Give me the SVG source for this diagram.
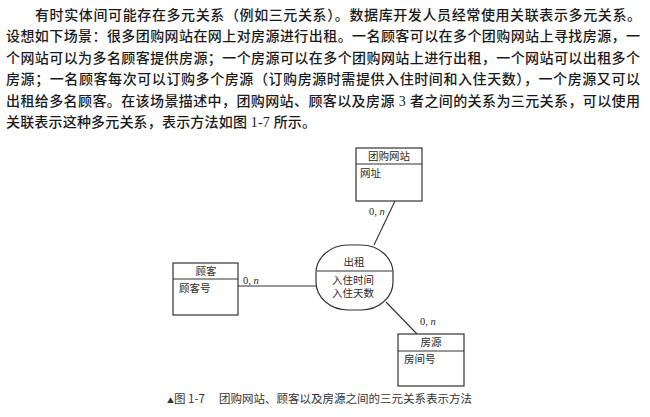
<svg xmlns="http://www.w3.org/2000/svg" width="650" height="417" viewBox="0 0 650 417">
<style>
.body{font-family:"Liberation Serif","Noto Sans CJK SC",serif;font-size:14px;font-weight:500;fill:#1a1a1a;}
.lbl{font-family:"Liberation Serif","Noto Sans CJK SC",serif;font-size:10.5px;fill:#2a2a2a;}
.cap{font-family:"Noto Sans CJK SC","Liberation Sans",sans-serif;font-size:11.5px;fill:#333;}
.box{fill:#fff;stroke:#333;stroke-width:1.2;}
.div{stroke:#333;stroke-width:1.2;}
.conn{stroke:#333;stroke-width:1.1;fill:none;}
</style>
<rect width="650" height="417" fill="#fff"/>
<g id="paragraph">
<text class="body" x="35" y="20" textLength="606" lengthAdjust="spacing">有时实体间可能存在多元关系（例如三元关系）。数据库开发人员经常使用关联表示多元关系。</text>
<text class="body" x="6" y="41" textLength="634" lengthAdjust="spacing">设想如下场景：很多团购网站在网上对房源进行出租。一名顾客可以在多个团购网站上寻找房源，一</text>
<text class="body" x="6" y="63" textLength="634" lengthAdjust="spacing">个网站可以为多名顾客提供房源；一个房源可以在多个团购网站上进行出租，一个网站可以出租多个</text>
<text class="body" x="6" y="84" textLength="634" lengthAdjust="spacing">房源；一名顾客每次可以订购多个房源（订购房源时需提供入住时间和入住天数），一个房源又可以</text>
<text class="body" x="6" y="106" textLength="634" lengthAdjust="spacing">出租给多名顾客。在该场景描述中，团购网站、顾客以及房源 3 者之间的关系为三元关系，可以使用</text>
<text class="body" x="6" y="127" textLength="310" lengthAdjust="spacing">关联表示这种多元关系，表示方法如图 1-7 所示。</text>
</g>
<g id="connectors">
<line class="conn" x1="395" y1="201" x2="374" y2="245"/>
<line class="conn" x1="238" y1="286" x2="316" y2="286"/>
<line class="conn" x1="386" y1="302" x2="417" y2="334"/>
<text class="lbl" x="369" y="215">0, <tspan font-style="italic">n</tspan></text>
<text class="lbl" x="243" y="284">0, <tspan font-style="italic">n</tspan></text>
<text class="lbl" x="420" y="325">0, <tspan font-style="italic">n</tspan></text>
</g>
<g id="tuangou">
<rect class="box" x="356" y="148" width="66" height="53"/>
<line class="div" x1="356" y1="164" x2="422" y2="164"/>
<text class="lbl" x="389" y="160" text-anchor="middle">团购网站</text>
<text class="lbl" x="360" y="177">网址</text>
</g>
<g id="guke">
<rect class="box" x="173" y="263" width="65" height="52"/>
<line class="div" x1="173" y1="279" x2="238" y2="279"/>
<text class="lbl" x="206" y="275" text-anchor="middle">顾客</text>
<text class="lbl" x="179" y="292">顾客号</text>
</g>
<g id="chuzu">
<rect class="box" x="316" y="245" width="77" height="65" rx="32" ry="28"/>
<line class="div" x1="317" y1="271" x2="392" y2="271"/>
<text class="lbl" x="354" y="266" text-anchor="middle">出租</text>
<text class="lbl" x="353" y="284" text-anchor="middle">入住时间</text>
<text class="lbl" x="353" y="297" text-anchor="middle">入住天数</text>
</g>
<g id="fangyuan">
<rect class="box" x="398" y="334" width="66" height="52"/>
<line class="div" x1="398" y1="351" x2="464" y2="351"/>
<text class="lbl" x="431" y="346" text-anchor="middle">房源</text>
<text class="lbl" x="404" y="363">房间号</text>
</g>
<g id="caption">
<text class="cap" x="167" y="403"><tspan font-size="7px">▲</tspan>图 1-7　 团购网站、顾客以及房源之间的三元关系表示方法</text>
</g>
</svg>
